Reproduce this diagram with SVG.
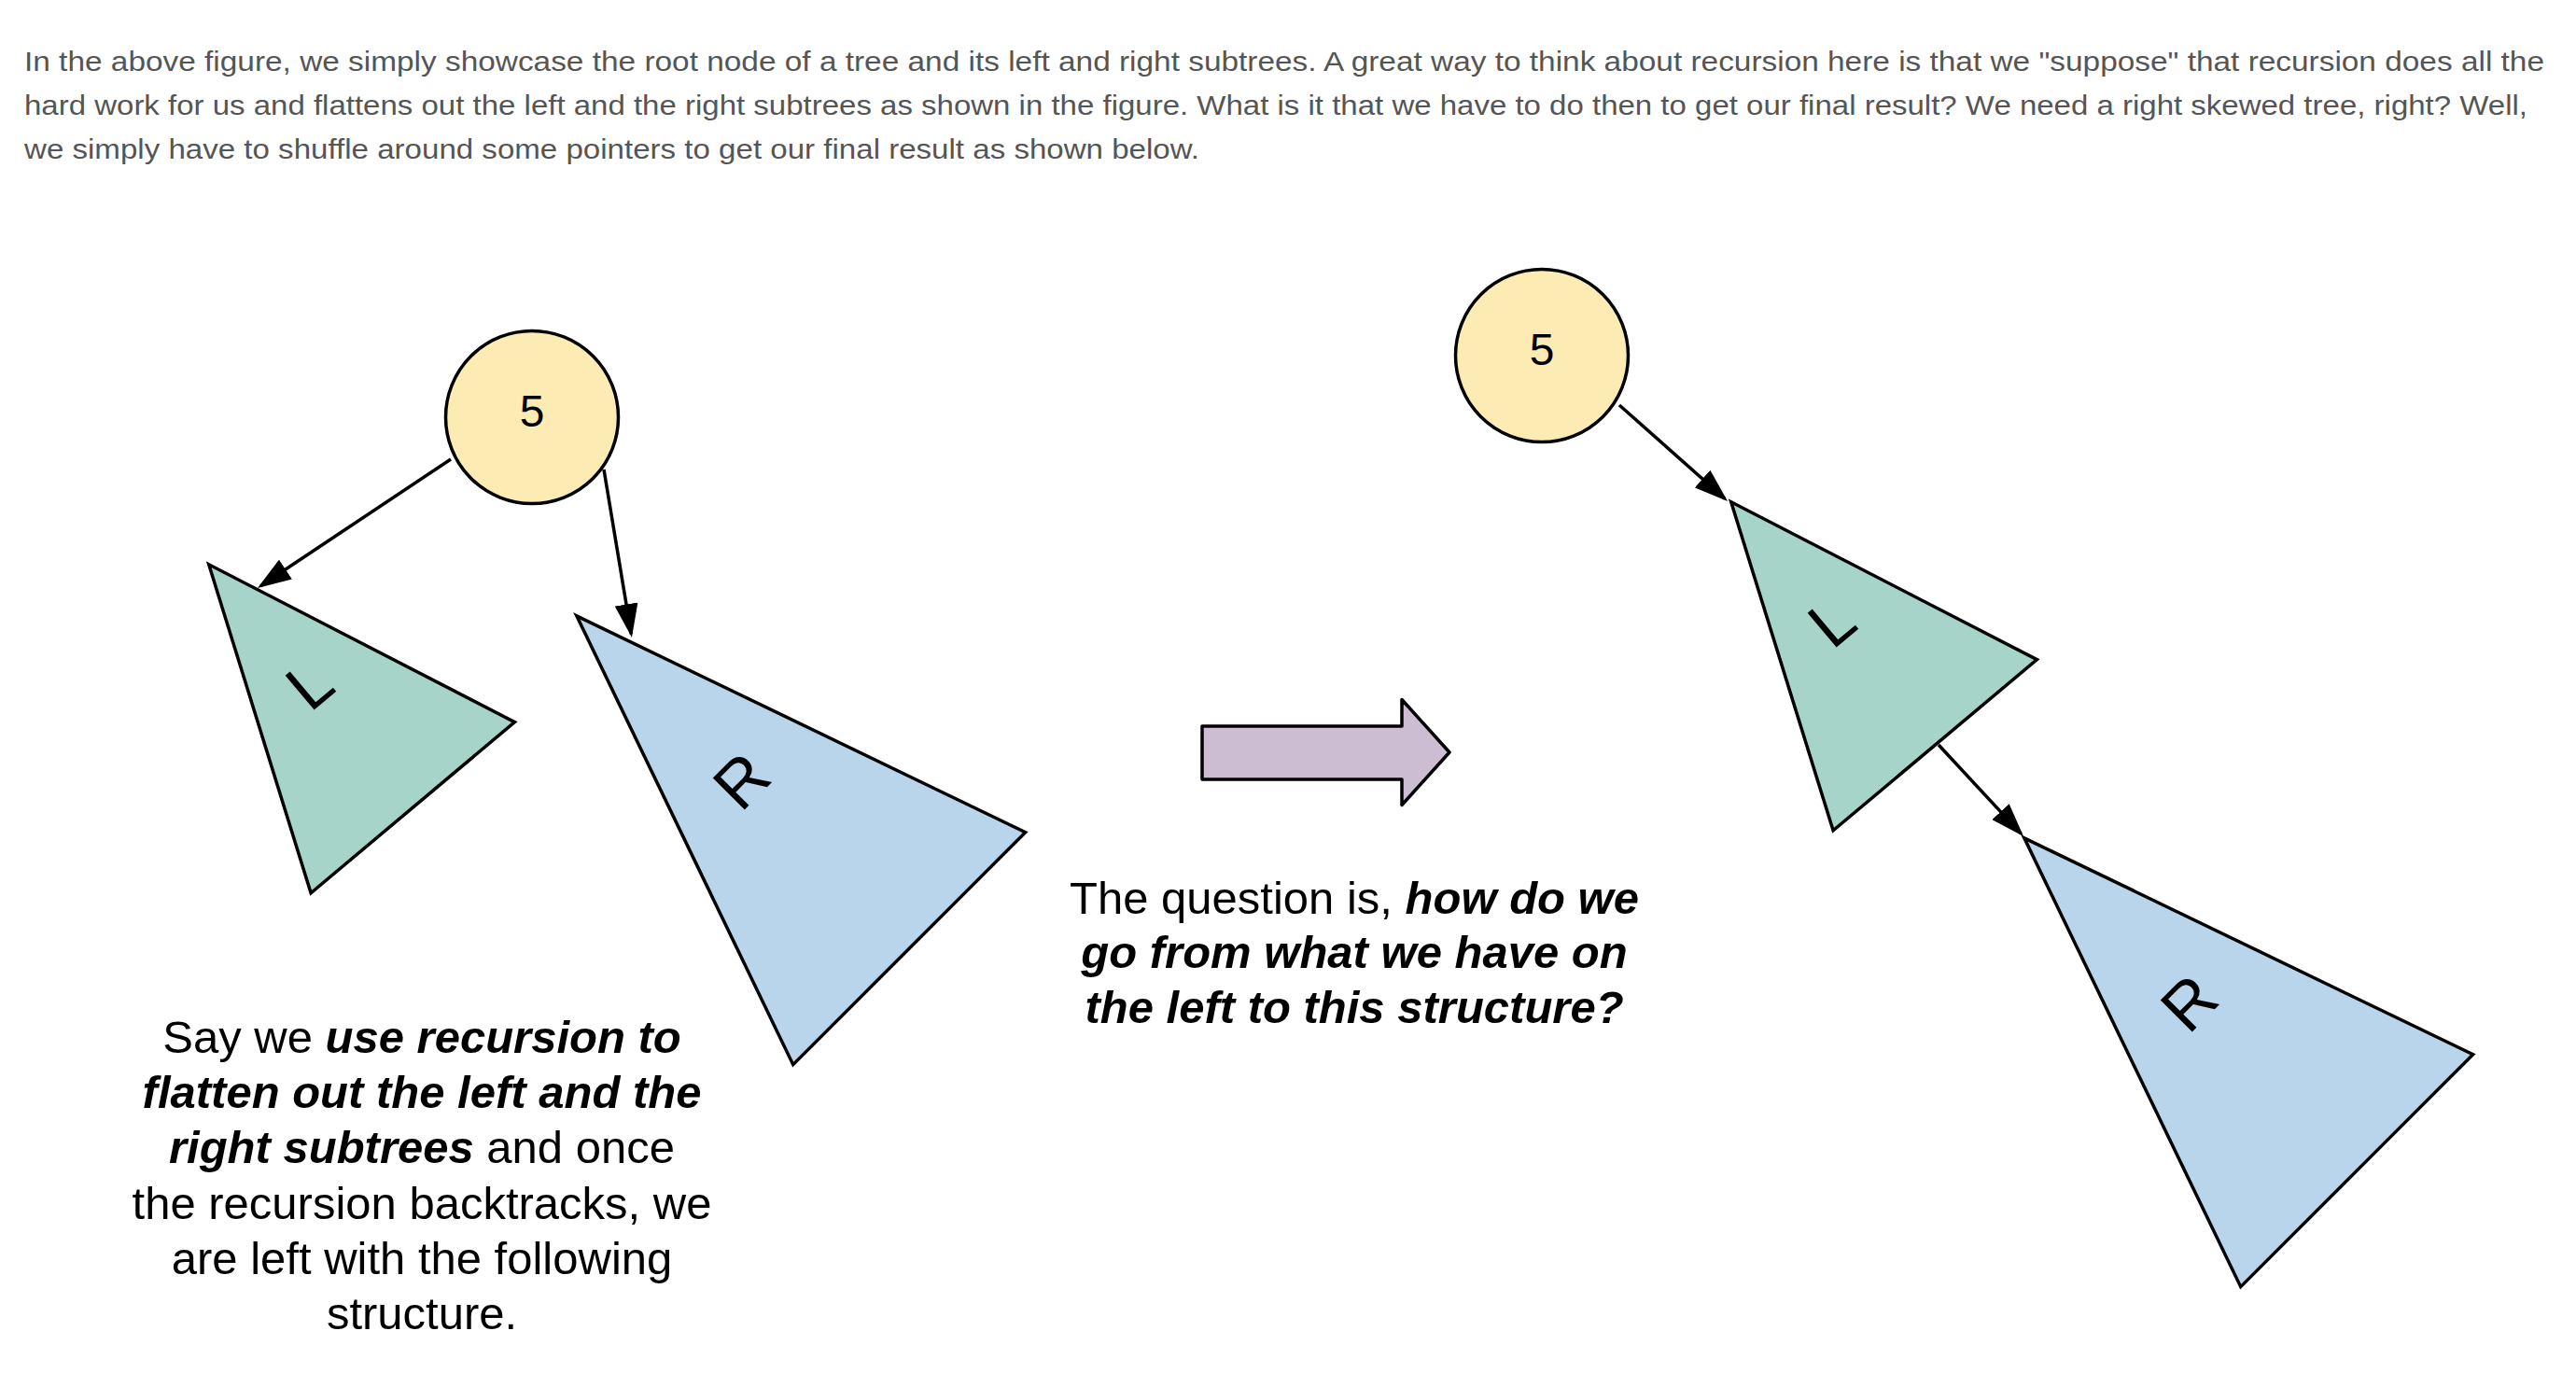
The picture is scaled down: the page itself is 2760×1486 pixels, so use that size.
<svg xmlns="http://www.w3.org/2000/svg" width="2760" height="1486" viewBox="0 0 2760 1486">
  <style>
    .para { font-family: "Liberation Sans", Arial, sans-serif; font-size: 29px; fill: #555555; }
    .txt { font-family: "Liberation Sans", Arial, sans-serif; font-size: 49px; fill: #000000; text-anchor: middle; }
    .num { font-family: "Liberation Sans", Arial, sans-serif; font-size: 48px; fill: #000000; text-anchor: middle; }
    .tri-lbl { font-family: "Liberation Sans", Arial, sans-serif; font-size: 70px; fill: #000000; text-anchor: middle; }
    .bi { font-weight: bold; font-style: italic; }
    .circle { fill: #fcebb2; stroke: #000000; stroke-width: 3.5; }
    .green { fill: #a7d4c9; stroke: #000000; stroke-width: 3.5; stroke-linejoin: miter; }
    .blue { fill: #b9d5eb; stroke: #000000; stroke-width: 3.5; stroke-linejoin: miter; }
    .edge { fill: none; stroke: #000000; stroke-width: 3.5; }
    .bigarrow { fill: #cdbdd3; stroke: #000000; stroke-width: 3.5; stroke-linejoin: round; }
  </style>
  <defs>
    <marker id="ah" markerUnits="userSpaceOnUse" markerWidth="37" markerHeight="25" refX="32" refY="12.5" orient="auto">
      <path d="M0,0 L36,12.5 L0,25 Z" fill="#000000"/>
    </marker>
  </defs>

  <rect x="0" y="0" width="2760" height="1486" fill="#ffffff"/>

  <g id="paragraph">
    <text class="para" x="26" y="76" textLength="2700" lengthAdjust="spacingAndGlyphs">In the above figure, we simply showcase the root node of a tree and its left and right subtrees. A great way to think about recursion here is that we &quot;suppose&quot; that recursion does all the</text>
    <text class="para" x="26" y="123" textLength="2682" lengthAdjust="spacingAndGlyphs">hard work for us and flattens out the left and the right subtrees as shown in the figure. What is it that we have to do then to get our final result? We need a right skewed tree, right? Well,</text>
    <text class="para" x="26" y="170" textLength="1259" lengthAdjust="spacingAndGlyphs">we simply have to shuffle around some pointers to get our final result as shown below.</text>
  </g>

  <g id="connectors">
    <path class="edge" d="M483,492 L279.3,627.8" marker-end="url(#ah)"/>
    <path class="edge" d="M647,503 L676.3,679.1" marker-end="url(#ah)"/>
    <path class="edge" d="M1735,434 L1848,534.3" marker-end="url(#ah)"/>
    <path class="edge" d="M2077,798 L2165.3,893.1" marker-end="url(#ah)"/>
  </g>

  <g id="left-root">
    <circle class="circle" cx="570" cy="447" r="92.5"/>
    <text class="num" x="570" y="457">5</text>
  </g>
  <g id="left-L" transform="translate(333,735) rotate(-40)">
    <polygon class="green" points="0,-170 142.5,170 -142.5,170"/>
    <text class="tri-lbl" x="0" y="22">L</text>
  </g>
  <g id="left-R" transform="translate(796,838) rotate(-45)">
    <polygon class="blue" points="0,-252 176,252 -176,252"/>
    <text class="tri-lbl" x="0" y="22">R</text>
  </g>

  <g id="transform-arrow">
    <path class="bigarrow" d="M1288,778 H1502 V749.5 L1553,806 L1502,862.5 V835 H1288 Z"/>
  </g>

  <g id="right-root">
    <circle class="circle" cx="1652" cy="381" r="92.5"/>
    <text class="num" x="1652" y="391">5</text>
  </g>
  <g id="right-L" transform="translate(1964,668) rotate(-40)">
    <polygon class="green" points="0,-170 142.5,170 -142.5,170"/>
    <text class="tri-lbl" x="0" y="22">L</text>
  </g>
  <g id="right-R" transform="translate(2347,1076) rotate(-45)">
    <polygon class="blue" points="0,-252 176,252 -176,252"/>
    <text class="tri-lbl" x="0" y="22">R</text>
  </g>

  <g id="question-text">
    <text class="txt" x="1451" y="979">The question is, <tspan class="bi">how do we</tspan></text>
    <text class="txt" x="1451" y="1037"><tspan class="bi">go from what we have on</tspan></text>
    <text class="txt" x="1451" y="1096"><tspan class="bi">the left to this structure?</tspan></text>
  </g>

  <g id="caption-text">
    <text class="txt" x="452" y="1128">Say we <tspan class="bi">use recursion to</tspan></text>
    <text class="txt" x="452" y="1187"><tspan class="bi">flatten out the left and the</tspan></text>
    <text class="txt" x="452" y="1246"><tspan class="bi">right subtrees</tspan> and once</text>
    <text class="txt" x="452" y="1306">the recursion backtracks, we</text>
    <text class="txt" x="452" y="1365">are left with the following</text>
    <text class="txt" x="452" y="1424">structure.</text>
  </g>
</svg>
